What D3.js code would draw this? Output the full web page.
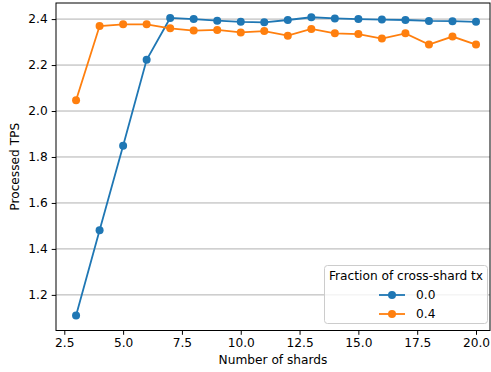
<!DOCTYPE html>
<html>
<head>
<meta charset="utf-8">
<script src="https://cdn.jsdelivr.net/npm/d3@7"></script>
<style>
  html, body { margin: 0; padding: 0; background: #fff; }
  svg { display: block; font-family: "DejaVu Sans", sans-serif; }
</style>
</head>
<body>
<svg id="chart" width="491" height="372"></svg>
<script>
// Number of shards on the x axis
const shards = [3, 4, 5, 6, 7, 8, 9, 10, 11, 12, 13, 14, 15, 16, 17, 18, 19, 20];
// Processed TPS per cross-shard fraction
const tpsFrac00 = [1.110, 1.481, 1.849, 2.223, 2.405, 2.400, 2.393, 2.388, 2.386, 2.396, 2.408, 2.403, 2.400, 2.398, 2.396, 2.392, 2.391, 2.388];
const tpsFrac04 = [2.047, 2.370, 2.377, 2.377, 2.360, 2.350, 2.353, 2.342, 2.348, 2.328, 2.357, 2.338, 2.335, 2.315, 2.338, 2.289, 2.324, 2.289];
const seriesLabels = ["0.0", "0.4"];
const seriesColors = ["#1f77b4", "#ff7f0e"];
const xTicks = [2.5, 5.0, 7.5, 10.0, 12.5, 15.0, 17.5, 20.0];
const yTicks = [1.2, 1.4, 1.6, 1.8, 2.0, 2.2, 2.4];

const svg = d3.select("#chart");
const plotL = 56, plotR = 490, plotT = 3, plotB = 330.5;
const fontSize = 12.2;

const x = d3.scaleLinear().domain([2.147, 20.595]).range([plotL, plotR]);
const y = d3.scaleLinear().domain([1.045, 2.47]).range([plotB, plotT]);

// horizontal grid
svg.append("g")
  .selectAll("line").data(yTicks).join("line")
  .attr("x1", plotL).attr("x2", plotR)
  .attr("y1", d => y(d)).attr("y2", d => y(d))
  .attr("stroke", "#b0b0b0").attr("stroke-width", 1);

// axes
const xAxis = d3.axisBottom(x).tickValues(xTicks).tickFormat(d3.format(".1f")).tickSize(4.3).tickPadding(4);
const yAxis = d3.axisLeft(y).tickValues(yTicks).tickFormat(d3.format(".1f")).tickSize(4.3).tickPadding(4);

const gx = svg.append("g").attr("transform", `translate(0,${plotB})`).call(xAxis);
const gy = svg.append("g").attr("transform", `translate(${plotL},0)`).call(yAxis);
[gx, gy].forEach(g => {
  g.select(".domain").remove();
  g.selectAll("text").attr("font-size", fontSize).attr("font-family", "DejaVu Sans").attr("fill", "#000");
  g.selectAll("line").attr("stroke", "#000").attr("stroke-width", 1);
});

// series
const series = [tpsFrac00, tpsFrac04];
const line = d3.line().x((d, i) => x(shards[i])).y(d => y(d));
series.forEach((vals, s) => {
  svg.append("path").datum(vals)
    .attr("d", line).attr("fill", "none")
    .attr("stroke", seriesColors[s]).attr("stroke-width", 1.8);
  svg.append("g").selectAll("circle").data(vals).join("circle")
    .attr("cx", (d, i) => x(shards[i])).attr("cy", d => y(d))
    .attr("r", 4).attr("fill", seriesColors[s]);
});

// frame
svg.append("rect")
  .attr("x", plotL).attr("y", plotT)
  .attr("width", plotR - plotL).attr("height", plotB - plotT)
  .attr("fill", "none").attr("stroke", "#000").attr("stroke-width", 1);

// axis titles
svg.append("text")
  .attr("x", (plotL + plotR) / 2).attr("y", 364)
  .attr("text-anchor", "middle").attr("font-size", fontSize)
  .text("Number of shards");
svg.append("text")
  .attr("transform", `translate(19,${(plotT + plotB) / 2}) rotate(-90)`)
  .attr("text-anchor", "middle").attr("font-size", fontSize)
  .text("Processed TPS");

// legend
const lg = svg.append("g");
lg.append("rect")
  .attr("x", 324.5).attr("y", 265.5).attr("width", 163).attr("height", 58)
  .attr("rx", 3).attr("fill", "#fff").attr("fill-opacity", 0.8)
  .attr("stroke", "#cccccc").attr("stroke-width", 1);
lg.append("text")
  .attr("x", 406).attr("y", 280).attr("text-anchor", "middle")
  .attr("font-size", fontSize).text("Fraction of cross-shard tx");
seriesLabels.forEach((lab, s) => {
  const cy = 295 + s * 19;
  lg.append("line").attr("x1", 379).attr("x2", 405).attr("y1", cy).attr("y2", cy)
    .attr("stroke", seriesColors[s]).attr("stroke-width", 1.8);
  lg.append("circle").attr("cx", 392).attr("cy", cy).attr("r", 4).attr("fill", seriesColors[s]);
  lg.append("text").attr("x", 416).attr("y", cy + 4.3)
    .attr("font-size", fontSize).text(lab);
});
</script>
</body>
</html>
